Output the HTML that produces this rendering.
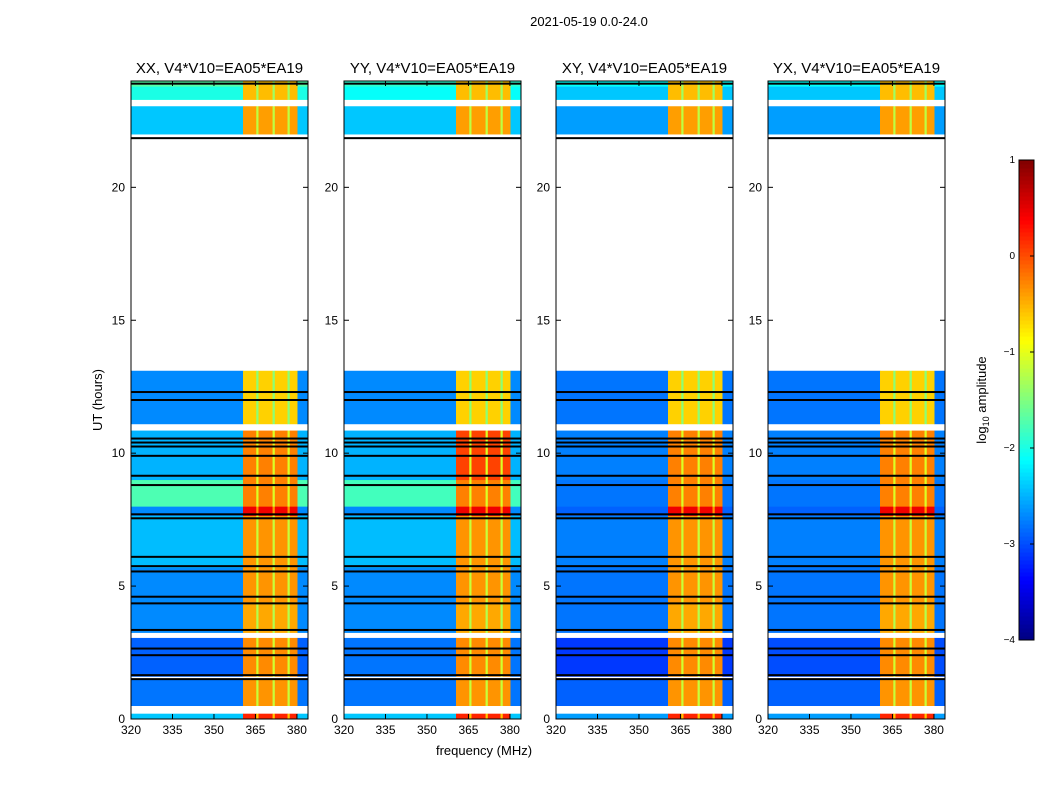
<!DOCTYPE html>
<html><head><meta charset="utf-8">
<style>
body{margin:0;background:#fff;}
svg{display:block;font-family:"Liberation Sans","DejaVu Sans",sans-serif;}
</style></head>
<body>
<svg id="fig" width="1050" height="800" viewBox="0 0 1050 800">
<rect width="1050" height="800" fill="#fff"/>
<text x="589" y="26" font-size="13" text-anchor="middle">2021-05-19 0.0-24.0</text>
<text x="102" y="400" font-size="13" text-anchor="middle" transform="rotate(-90 102 400)">UT (hours)</text>
<text x="484" y="755" font-size="13" text-anchor="middle">frequency (MHz)</text>
<text x="986" y="400" font-size="13" text-anchor="middle" transform="rotate(-90 986 400)">log<tspan font-size="9" dy="3">10</tspan><tspan dy="-3"> amplitude</tspan></text>
<g id="panels"></g>
<g id="cbar"></g>
</svg>
<script>
// ---- data ----
const panelNames=["XX, V4*V10=EA05*EA19","YY, V4*V10=EA05*EA19","XY, V4*V10=EA05*EA19","YX, V4*V10=EA05*EA19"];
const segStart=[0.0,0.2,0.5,1.6,3.05,3.25,4.4,5.7,7.65,8.0,9.0,10.85,11.1,13.1,21.85,22.0,23.05,23.3,23.8];
const segEnd  =[0.2,0.5,1.5,3.05,3.25,4.4,5.7,7.65,8.0,9.0,10.85,11.1,13.1,21.85,22.0,23.05,23.3,23.8,24.0];
const bgXX=[-2.4,null,-2.8,-2.9,null,-2.7,-2.7,-2.45,-2.7,-1.75,-2.5,null,-2.7,null,null,-2.4,null,-2.0,-1.7];
const bgYY=[-2.4,null,-2.8,-2.8,null,-2.7,-2.7,-2.45,-2.7,-1.8,-2.5,null,-2.7,null,null,-2.4,null,-2.1,-1.9];
const bgXY=[-2.6,null,-2.9,-3.1,null,-2.8,-2.8,-2.75,-2.9,-2.8,-2.75,null,-2.8,null,null,-2.6,null,-2.4,-2.1];
const bgYX=[-2.6,null,-2.9,-3.0,null,-2.8,-2.8,-2.75,-2.9,-2.8,-2.75,null,-2.8,null,null,-2.6,null,-2.4,-2.1];
const bandLevel=[0.2,null,-0.35,-0.3,null,-0.45,-0.35,-0.35,0.45,-0.25,-0.25,null,-0.65,null,null,-0.4,null,-0.55,-0.55];
const blackLines=[1.5,1.65,2.4,2.65,3.35,4.35,4.6,5.55,5.75,6.1,7.55,7.7,8.8,9.15,9.9,10.25,10.4,10.55,12.0,12.3,21.85,23.9];
const freqEdges=[320,360.5,365.3,366.1,371.2,372.0,376.6,377.4,380.2,384];
const freqKind=["bg","band","sep","band","sep","band","sep","band","bg"];
const yTicks=[0,5,10,15,20];
const xTicks=[320,335,350,365,380];
const cbTicks=[1,0,-1,-2,-3,-4];
const cbLabels=["1","0","\u22121","\u22122","\u22123","\u22124"];
// ---- layout ----
const panelX=[131,344,556,768], pw=177, yTop=81, yBot=719;
const fmin=320,fmax=384,hmin=0,hmax=24;
const NS="http://www.w3.org/2000/svg";
function jet(v){
  const c=x=>Math.max(0,Math.min(1,x));
  const r=c(1.5-Math.abs(4*v-3)), g=c(1.5-Math.abs(4*v-2)), b=c(1.5-Math.abs(4*v-1));
  return `rgb(${Math.round(r*255)},${Math.round(g*255)},${Math.round(b*255)})`;
}
const cmap=l=>jet((l+4)/5);
function mk(tag,attrs,parent){const e=document.createElementNS(NS,tag);for(const k in attrs)e.setAttribute(k,attrs[k]);parent.appendChild(e);return e;}
const P=document.getElementById('panels');
const bgs=[bgXX,bgYY,bgXY,bgYX];
panelX.forEach((x0,p)=>{
  const xs=f=>x0+(f-fmin)/(fmax-fmin)*pw;
  const ys=h=>yBot-(h-hmin)/(hmax-hmin)*(yBot-yTop);
  const g=mk('g',{},P);
  
  
  const bg=bgs[p];
  for(let i=0;i<segStart.length;i++){
    if(bg[i]===null) continue;
    for(let j=0;j<freqKind.length;j++){
      let lv=freqKind[j]==="bg"?bg[i]:freqKind[j]==="band"?bandLevel[i]:bandLevel[i]-0.8;
      if(p===1&&i===10&&freqKind[j]==="band") lv+=0.3;
      const r=mk('rect',{x:xs(freqEdges[j]),y:ys(segEnd[i]),width:xs(freqEdges[j+1])-xs(freqEdges[j])+0.3,height:ys(segStart[i])-ys(segEnd[i])+0.3,fill:cmap(lv)},g);
      
      
    }
  }
  blackLines.forEach(h=>{
    const l=mk('rect',{x:x0,y:ys(h)-1,width:pw,height:2,fill:'#000'},g);
    
    
  });
  const fr=mk('rect',{x:x0,y:yTop,width:pw,height:yBot-yTop,fill:'none',stroke:'#000','stroke-width':1},g);
  
  
  yTicks.forEach(h=>{
    mk('line',{x1:x0,x2:x0+5,y1:ys(h),y2:ys(h),stroke:'#000'},g);
    mk('line',{x1:x0+pw-5,x2:x0+pw,y1:ys(h),y2:ys(h),stroke:'#000'},g);
    const t=mk('text',{x:x0-6,y:ys(h)+4,'font-size':12,'text-anchor':'end'},g);t.textContent=h;
    
    
  });
  xTicks.forEach(f=>{
    mk('line',{x1:xs(f),x2:xs(f),y1:yBot,y2:yBot-5,stroke:'#000'},g);
    mk('line',{x1:xs(f),x2:xs(f),y1:yTop,y2:yTop+5,stroke:'#000'},g);
    const t=mk('text',{x:xs(f),y:yBot+15,'font-size':12,'text-anchor':'middle'},g);t.textContent=f;
    
    
  });
  const tt=mk('text',{x:x0+pw/2,y:73,'font-size':15,'text-anchor':'middle'},g);tt.textContent=panelNames[p];
  
  
});
// colorbar
const C=document.getElementById('cbar');
const cx=1019,cw=15,ct=160,cb=640;
const cy=v=>cb-(v+4)/5*(cb-ct);
for(let i=0;i<120;i++){
  const v0=-4+5*i/120,v1=-4+5*(i+1)/120;
  mk('rect',{x:cx,y:cy(v1),width:cw,height:cy(v0)-cy(v1)+0.5,fill:cmap((v0+v1)/2)},C);
}
const cf=mk('rect',{x:cx,y:ct,width:cw,height:cb-ct,fill:'none',stroke:'#000'},C);


cbTicks.forEach((v,i)=>{
  mk('line',{x1:cx+cw-4,x2:cx+cw,y1:cy(v),y2:cy(v),stroke:'#000'},C);
  const t=mk('text',{x:cx-4,y:cy(v)+3,'font-size':10,'text-anchor':'end'},C);t.textContent=cbLabels[i];
  
  
});
</script>
</body></html>
